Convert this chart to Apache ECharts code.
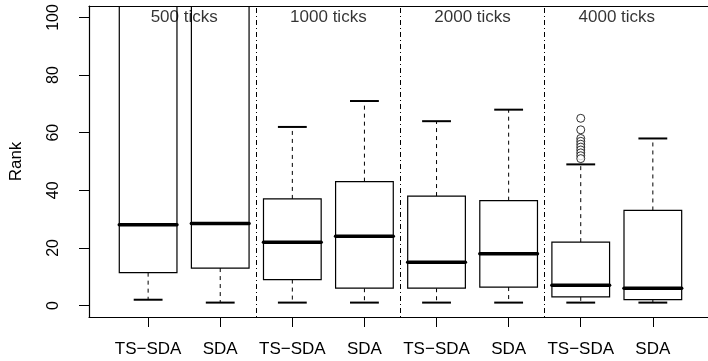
<!DOCTYPE html>
<html>
<head>
<meta charset="utf-8">
<script src="https://cdn.jsdelivr.net/npm/echarts@6/dist/echarts.min.js"></script>
<style>
  html, body { margin: 0; padding: 0; background: #fff; }
  #chart { width: 708px; height: 361px; }
</style>
</head>
<body>
<div id="chart"></div>
<script>
// boxes, left to right
var categories = ['TS\u2212SDA', 'SDA', 'TS\u2212SDA', 'SDA', 'TS\u2212SDA', 'SDA', 'TS\u2212SDA', 'SDA']
var groupLabels = ['500 ticks', '1000 ticks', '2000 ticks', '4000 ticks']
var lowerWhisker = [2, 1, 1, 1, 1, 1, 1, 1]
var q1 = [11.4, 13, 9, 6, 6, 6.4, 3, 2]
var median = [28, 28.5, 22, 24, 15, 18, 7, 6]
var q3 = [150, 150, 37, 43, 38, 36.4, 22, 33] // first two run off the top
var upperWhisker = [300, 300, 62, 71, 64, 68, 49, 58]
// outliers of 4000 ticks TS-SDA (box 7)
var outlierBox = 7
var outliers = [65, 61, 58, 57, 56, 55, 54, 53, 52, 51]
var yTicks = [0, 20, 40, 60, 80, 100]
var xTicks = [1, 2, 3, 4, 5, 6, 7, 8]

var chart = echarts.init(document.getElementById('chart'))

var boxData = categories.map(function (c, i) {
  return [i + 1, lowerWhisker[i], q1[i], median[i], q3[i], upperWhisker[i]]
})
var outlierData = outliers.map(function (v) { return [outlierBox, v] })
var labelData = groupLabels.map(function (g, i) { return [2 * i + 1.5, 100, g] })
var separators = groupLabels.slice(1).map(function (g, i) { return 2 * i + 2.5 })

function renderBox(params, api) {
  var x = api.value(0)
  var pLow = api.coord([x, api.value(1)])
  var pQ1 = api.coord([x, api.value(2)])
  var pMed = api.coord([x, api.value(3)])
  var pQ3 = api.coord([x, api.value(4)])
  var pHigh = api.coord([x, api.value(5)])
  var half = api.size([0.8, 0])[0] / 2
  var cx = pMed[0]
  var dash = { stroke: '#000', lineWidth: 1, lineDash: [4, 4] }
  var cap = { stroke: '#000', lineWidth: 2 }
  return {
    type: 'group',
    children: [
      { type: 'line', shape: { x1: cx, y1: pQ1[1], x2: cx, y2: pLow[1] }, style: dash },
      { type: 'line', shape: { x1: cx, y1: pQ3[1], x2: cx, y2: pHigh[1] }, style: dash },
      { type: 'line', shape: { x1: cx - half / 2, y1: pLow[1], x2: cx + half / 2, y2: pLow[1] }, style: cap },
      { type: 'line', shape: { x1: cx - half / 2, y1: pHigh[1], x2: cx + half / 2, y2: pHigh[1] }, style: cap },
      {
        type: 'rect',
        shape: { x: cx - half, y: pQ3[1], width: half * 2, height: pQ1[1] - pQ3[1] },
        style: { fill: '#fff', stroke: '#000', lineWidth: 1.2 }
      },
      {
        type: 'line',
        shape: { x1: cx - half, y1: pMed[1], x2: cx + half, y2: pMed[1] },
        style: { stroke: '#000', lineWidth: 3.5, lineCap: 'round' }
      }
    ]
  }
}

var frameLine = { show: true, onZero: false, lineStyle: { color: '#000', width: 1.2 } }

chart.setOption({
  animation: false,
  backgroundColor: '#fff',
  textStyle: { fontFamily: 'Liberation Sans', color: '#000' },
  grid: { left: 86, right: 0, top: 6, bottom: 44 },
  xAxis: [{
    type: 'value',
    z: 10,
    min: 0.18,
    max: 8.765,
    axisLine: frameLine,
    axisTick: { show: true, length: 10, customValues: xTicks, lineStyle: { color: '#000' } },
    axisLabel: {
      customValues: xTicks,
      margin: 24,
      fontSize: 17,
      color: '#000',
      fontFamily: 'Liberation Sans',
      formatter: function (v) { return categories[Math.round(v) - 1] }
    },
    splitLine: { show: false }
  }, {
    // top edge of the frame
    type: 'value',
    z: 10,
    position: 'top',
    min: 0.18,
    max: 8.765,
    axisLine: frameLine,
    axisTick: { show: false },
    axisLabel: { show: false },
    splitLine: { show: false }
  }],
  yAxis: {
    type: 'value',
    z: 10,
    min: -4,
    max: 104,
    name: 'Rank',
    nameLocation: 'middle',
    nameRotate: 90,
    nameGap: 64,
    nameTextStyle: { fontSize: 17, color: '#000', fontFamily: 'Liberation Sans' },
    axisLine: frameLine,
    axisTick: { show: true, length: 10, customValues: yTicks, lineStyle: { color: '#000' } },
    axisLabel: {
      customValues: yTicks,
      rotate: 90,
      margin: 27,
      fontSize: 16,
      color: '#000',
      fontFamily: 'Liberation Sans'
    },
    splitLine: { show: false }
  },
  series: [
    {
      type: 'custom',
      clip: true,
      renderItem: renderBox,
      encode: { x: 0, y: [1, 2, 3, 4, 5] },
      data: boxData,
      z: 2,
      markLine: {
        silent: true,
        symbol: ['none', 'none'],
        label: { show: false },
        lineStyle: { color: '#000', width: 1, type: [1, 3, 5, 3] },
        data: separators.map(function (v) { return { xAxis: v } })
      }
    },
    {
      type: 'scatter',
      symbol: 'circle',
      symbolSize: 8,
      itemStyle: { color: '#fff', borderColor: '#000', borderWidth: 1 },
      data: outlierData,
      z: 3
    },
    {
      type: 'scatter',
      symbolSize: 0,
      silent: true,
      label: {
        show: true,
        position: 'inside',
        fontSize: 17,
        color: '#000',
        fontFamily: 'Liberation Sans',
        formatter: function (p) { return p.value[2] }
      },
      data: labelData,
      z: 4
    }
  ]
})
</script>
</body>
</html>
